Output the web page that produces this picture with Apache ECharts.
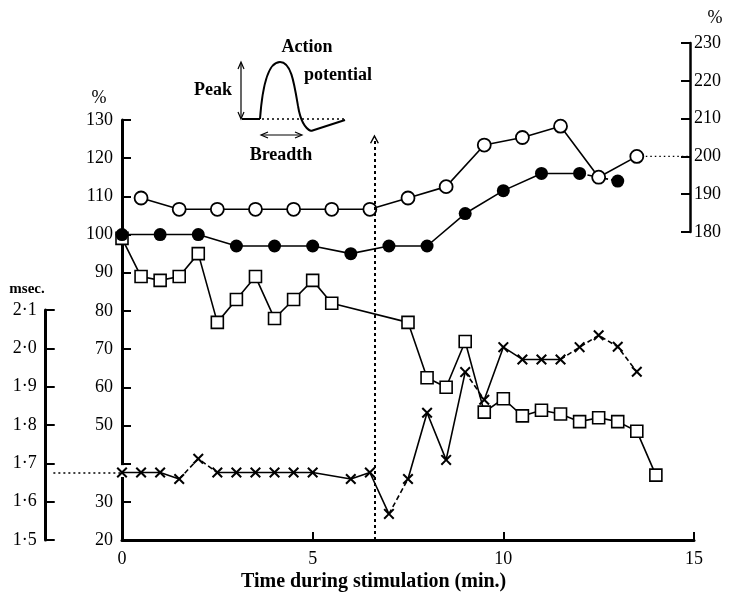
<!DOCTYPE html>
<html><head><meta charset="utf-8">
<script src="https://cdn.jsdelivr.net/npm/echarts@6/dist/echarts.min.js"></script>
<style>html,body{margin:0;padding:0;background:#fff}#c{width:734px;height:602px}</style>
</head><body><div id="c"></div>
<script>
// ---- data ----
const timeOpen   = [0.5,1.5,2.5,3.5,4.5,5.5,6.5,7.5,8.5,9.5,10.5,11.5,12.5,13.5];
const peakPct    = [189,186,186,186,186,186,186,189,192,203,205,208,194.5,200];   // right % axis
const timeFilled = [0,1,2,3,4,5,6,7,8,9,10,11,12,13];
const filledPct  = [100,100,100,97,97,97,95,97,97,105.5,111.5,116,116,114];      // left % axis
const filledDashedFrom = [12];
const timeSquare = [0,0.5,1,1.5,2,2.5,3,3.5,4,4.5,5,5.5,7.5,8,8.5,9,9.5,10,10.5,11,11.5,12,12.5,13,13.5,14];
const squarePct  = [99,89,88,89,95,77,83,89,78,83,88,82,77,62.5,60,72,53.5,57,52.5,54,53,51,52,51,48.5,37];
const timeCross  = [0,0.5,1,1.5,2,2.5,3,3.5,4,4.5,5,6,6.5,7,7.5,8,8.5,9,9.5,10,10.5,11,11.5,12,12.5,13,13.5];
const breadthMsec= [1.676,1.676,1.676,1.659,1.712,1.676,1.676,1.676,1.676,1.676,1.676,1.659,1.676,1.568,1.659,1.832,1.709,1.938,1.866,2.003,1.971,1.971,1.971,2.003,2.034,2.004,1.939];
const crossDashedFrom = [1.5,2,7,9,11.5,12,12.5,13];
const xTickInterval = 5;
const stimulusTime = 6.62, stimulusArrowTop = 125;
const baselineMsec = 1.675, baselinePeak = 200;
const axisGapFrom = 40, axisGapTo = 36.5;

const serif = 'Liberation Serif';
const chart = echarts.init(document.getElementById('c'));

// layout: main plot spans x 122..694, the right % axis sits 4px inside the x=15 end
const plotLeft = 122, plotRight = 40, rightAxisInset = 4;
const rightGridMax = 15 * (734 - plotRight - rightAxisInset - plotLeft) / (734 - plotRight - plotLeft);

function buildRuns(xs, ys, dashedFrom){
  const runs=[];
  for(let i=0;i<xs.length-1;i++){
    const d = dashedFrom.indexOf(xs[i])>=0;
    const last = runs[runs.length-1];
    if(last && last.dashed===d){ last.pts.push([xs[i+1],ys[i+1]]); }
    else runs.push({dashed:d, pts:[[xs[i],ys[i]],[xs[i+1],ys[i+1]]]});
  }
  return runs;
}
function lineSeries(runs, g){
  return runs.map(r=>({type:'line', xAxisIndex:g, yAxisIndex:g, data:r.pts, symbol:'none', silent:true, clip:false,
    lineStyle:{color:'#000', width:1.6, type: r.dashed?[5,3]:'solid'}, z:2}));
}
function markers(xs, ys, g, symbol, size, style){
  return {type:'scatter', xAxisIndex:g, yAxisIndex:g, data: xs.map((x,i)=>[x,ys[i]]), symbol, symbolSize:size,
    itemStyle:Object.assign({opacity:1}, style), z:4, silent:true, clip:false};
}
const crossPath = 'path://M0,1.3L1.3,0L5,3.7L8.7,0L10,1.3L6.3,5L10,8.7L8.7,10L5,6.3L1.3,10L0,8.7L3.7,5Z';
const chevron = 'path://M0,10L5,0L10,10L8.6,10.6L5,3.3L1.4,10.6Z';

const series = [].concat(
  lineSeries(buildRuns(timeSquare, squarePct, []), 0),
  lineSeries(buildRuns(timeFilled, filledPct, filledDashedFrom), 0),
  lineSeries(buildRuns(timeOpen, peakPct, []), 1),
  lineSeries(buildRuns(timeCross, breadthMsec, crossDashedFrom), 2),
  [
    {type:'line', xAxisIndex:1, yAxisIndex:1, data:[[timeOpen[timeOpen.length-1], baselinePeak],[rightGridMax, baselinePeak]], symbol:'none', silent:true, clip:false,
      lineStyle:{color:'#000', width:1.3, type:[1.5,3]}, z:1},
    {type:'line', xAxisIndex:2, yAxisIndex:2, data:[[-1.8, baselineMsec],[0, baselineMsec]], symbol:'none', silent:true, clip:false,
      lineStyle:{color:'#000', width:1.5, type:[2,3]}, z:1},
    {type:'line', xAxisIndex:0, yAxisIndex:0, data:[[stimulusTime,20],[stimulusTime,20]], symbol:'none', silent:true, clip:false,
      lineStyle:{opacity:0},
      markLine:{silent:true, animation:false, symbol:['none', chevron], symbolSize:[9,9], label:{show:false},
        lineStyle:{color:'#000', width:2, type:[3,3]},
        data:[[{coord:[stimulusTime,20]},{coord:[stimulusTime,stimulusArrowTop]}]]}},
    markers(timeSquare, squarePct, 0, 'rect', 12, {color:'#fff', borderColor:'#000', borderWidth:1.6}),
    markers(timeFilled, filledPct, 0, 'circle', 13, {color:'#000'}),
    markers(timeOpen, peakPct, 1, 'circle', 13, {color:'#fff', borderColor:'#000', borderWidth:1.8}),
    markers(timeCross, breadthMsec, 2, crossPath, 11, {color:'#000'})
  ]
);

const lbl = {color:'#000', fontFamily:serif, fontSize:18};
const stroke = {stroke:'#000', fill:'none', lineWidth:2};
const thin = {stroke:'#000', fill:'none', lineWidth:1.2};
const option = {
  animation:false,
  backgroundColor:'#fff',
  title:{text:'Time during stimulation (min.)', left:236, top:567,
    textStyle:{fontFamily:serif, fontWeight:'bold', fontSize:20, color:'#000'}},
  grid:[
    {left:plotLeft, right:plotRight, top:120, bottom:62},
    {left:plotLeft, right:plotRight + rightAxisInset, top:43, bottom:370},
    {left:plotLeft - 2*(734-plotRight-plotLeft)/15, right:plotRight, top:310, bottom:62}
  ],
  xAxis:[
    {type:'value', gridIndex:0, min:0, max:15, interval:xTickInterval,
      axisLine:{onZero:false, lineStyle:{color:'#000', width:3}}, axisTick:{inside:true, length:8, lineStyle:{width:2}},
      axisLabel:Object.assign({margin:10}, lbl), splitLine:{show:false}},
    {type:'value', gridIndex:1, min:0, max:rightGridMax, show:false},
    {type:'value', gridIndex:2, min:-2, max:15, show:false}
  ],
  yAxis:[
    {type:'value', gridIndex:0, min:20, max:130, interval:10, position:'left',
      axisLine:{show:true, onZero:false, lineStyle:{color:'#000', width:3}}, axisTick:{show:true, inside:true, length:9, lineStyle:{width:2}},
      axisLabel:Object.assign({margin:9, formatter:v=> v===axisGapFrom?'':String(v)}, lbl), splitLine:{show:false}},
    {type:'value', gridIndex:1, min:180, max:230, interval:10, position:'right',
      axisLine:{show:true, onZero:false, lineStyle:{color:'#000', width:2.5}}, axisTick:{show:true, inside:true, length:9, lineStyle:{width:2}},
      axisLabel:Object.assign({margin:4}, lbl), splitLine:{show:false}},
    {type:'value', gridIndex:2, min:1.5, max:2.1, interval:0.1, position:'left',
      axisLine:{show:true, onZero:false, lineStyle:{color:'#000', width:3}}, axisTick:{show:true, inside:true, length:9, lineStyle:{width:2}},
      axisLabel:Object.assign({margin:9, formatter:v=> v.toFixed(1).replace('.', '\u00B7')}, lbl), splitLine:{show:false}}
  ],
  graphic:{elements:[
    {type:'text', id:'t1', style:{text:'Action', x:307, y:47, font:'bold 18px "Liberation Serif"', fill:'#000', align:'center', verticalAlign:'middle'}},
    {type:'text', id:'t2', style:{text:'potential', x:338, y:75, font:'bold 18px "Liberation Serif"', fill:'#000', align:'center', verticalAlign:'middle'}},
    {type:'text', id:'t3', style:{text:'Peak', x:213, y:90, font:'bold 18px "Liberation Serif"', fill:'#000', align:'center', verticalAlign:'middle'}},
    {type:'text', id:'t4', style:{text:'Breadth', x:281, y:155, font:'bold 18px "Liberation Serif"', fill:'#000', align:'center', verticalAlign:'middle'}},
    {type:'text', id:'t5', style:{text:'%', x:99, y:98, font:'18px "Liberation Serif"', fill:'#000', align:'center', verticalAlign:'middle'}},
    {type:'text', id:'t6', style:{text:'%', x:715, y:18, font:'18px "Liberation Serif"', fill:'#000', align:'center', verticalAlign:'middle'}},
    {type:'text', id:'t7', style:{text:'msec.', x:27, y:289, font:'bold 15px "Liberation Serif"', fill:'#000', align:'center', verticalAlign:'middle'}},
    {type:'line', id:'ap0', shape:{x1:242,y1:119,x2:260,y2:119}, style:stroke},
    {type:'bezierCurve', id:'ap1', shape:{x1:260,y1:119,cpx1:263,cpy1:78,cpx2:270,cpy2:62,x2:280,y2:62}, style:stroke},
    {type:'bezierCurve', id:'ap2', shape:{x1:280,y1:62,cpx1:291,cpy1:62,cpx2:294,cpy2:82,x2:298,y2:106}, style:stroke},
    {type:'bezierCurve', id:'ap3', shape:{x1:298,y1:106,cpx1:300,cpy1:118,cpx2:304,cpy2:128,x2:311,y2:131}, style:stroke},
    {type:'line', id:'ap4', shape:{x1:311,y1:131,x2:345,y2:120}, style:stroke},
    {type:'line', id:'base', shape:{x1:262,y1:119,x2:344,y2:119}, style:{stroke:'#000', lineWidth:1.5, lineDash:[2,3]}},
    {type:'line', id:'pk', shape:{x1:241,y1:63,x2:241,y2:118}, style:thin},
    {type:'polyline', id:'pk1', shape:{points:[[238,69],[241,62],[244,69]]}, style:thin},
    {type:'polyline', id:'pk2', shape:{points:[[238,112],[241,119],[244,112]]}, style:thin},
    {type:'line', id:'br', shape:{x1:262,y1:135,x2:301,y2:135}, style:thin},
    {type:'polyline', id:'br1', shape:{points:[[268,132],[261,135],[268,138]]}, style:thin},
    {type:'polyline', id:'br2', shape:{points:[[295,132],[302,135],[295,138]]}, style:thin}
  ]},
  series: series
};
chart.setOption(option);
const g1 = chart.convertToPixel({xAxisIndex:0, yAxisIndex:0}, [0, axisGapFrom]);
const g2 = chart.convertToPixel({xAxisIndex:0, yAxisIndex:0}, [0, axisGapTo]);
chart.setOption({graphic:{elements:[{type:'rect', id:'gap', z:1,
  shape:{x:g1[0]-3, y:g1[1]+1.5, width:6, height:g2[1]-g1[1]-1.5}, style:{fill:'#fff'}}]}});
</script></body></html>
